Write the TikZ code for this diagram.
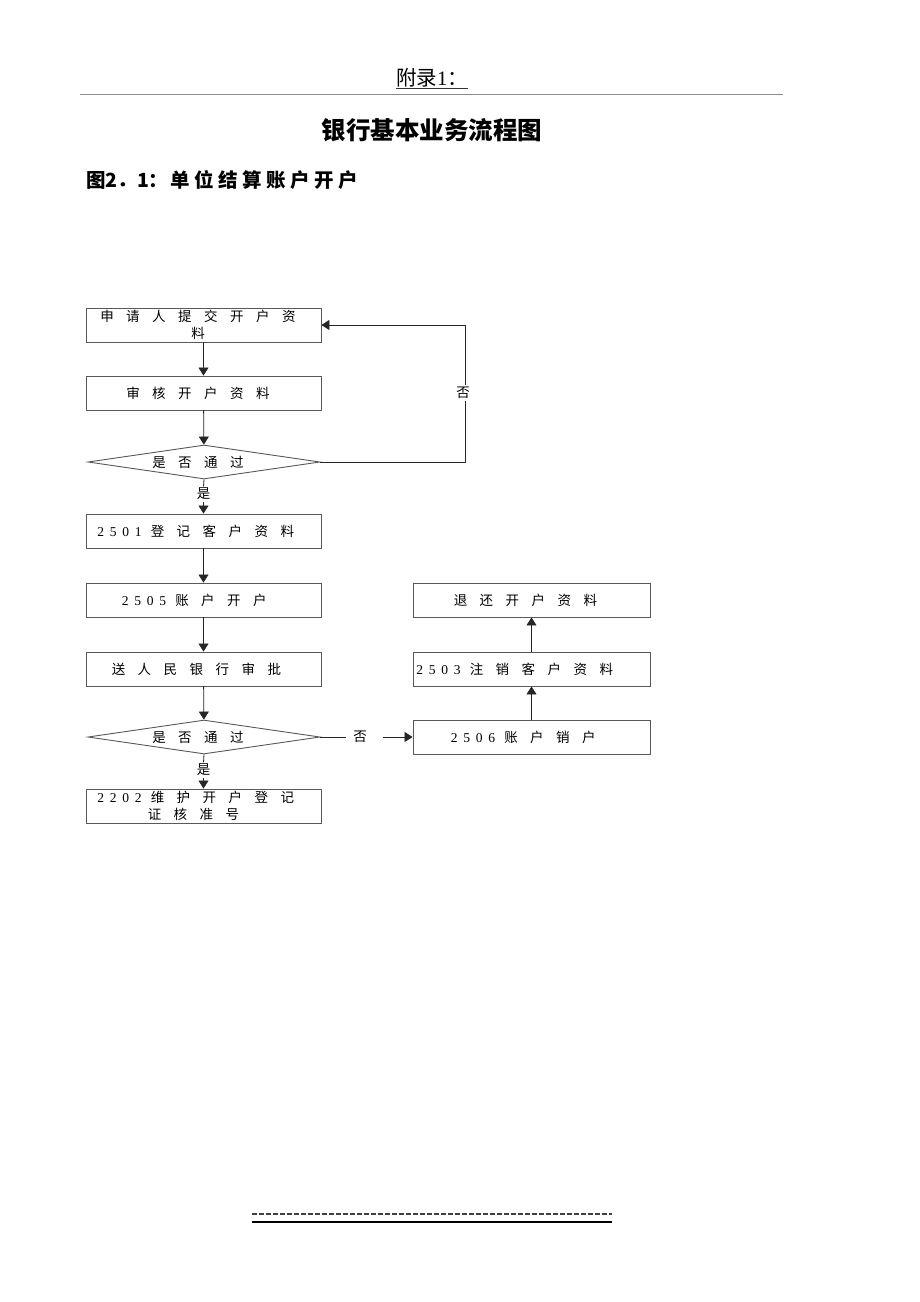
\documentclass[tikz,border=0pt]{standalone}
\usepackage{fontspec}
\setmainfont{Liberation Serif}
\newfontfamily\cjk{Noto Sans CJK SC}
\usetikzlibrary{arrows.meta,shapes.geometric}
\makeatletter
\newcommand\spr[2]{\@tfor\sprx:=#2\do{\makebox[#1][c]{\sprx}}}
\makeatother
\newcommand\dg[1]{{\rmfamily\spr{12.5pt}{#1}}}
\newcommand\cj[1]{\spr{26pt}{#1}}
\begin{document}
\begin{tikzpicture}[x=1pt,y=-1pt,
  every node/.style={inner sep=0pt},
  txt/.style={font=\cjk\fontsize{13.5pt}{17pt}\selectfont},
  lbox/.style={txt,draw=black!65,line width=0.9pt,minimum width=235pt,minimum height=34pt,align=center},
  rbox/.style={lbox,minimum width=237pt},
  dec/.style={txt,draw=black!65,line width=0.9pt,shape=diamond,aspect=6.8,minimum width=232pt,minimum height=34pt},
  lab/.style={txt,fill=white,inner sep=1.5pt},
  conn/.style={draw=black!85,line width=0.8pt},
  arr/.style={conn,-{Triangle[width=10pt,length=8pt]}}]
\useasboundingbox[fill=white] (0,0) rectangle (920,1302);

% header
\node[font=\fontsize{20.5pt}{20.5pt}\selectfont] (hdr) at (432,78) {{\cjk 附录}1{\cjk ：}};
\draw[black!80,line width=0.7pt] ([yshift=-3pt]hdr.base west) -- ([yshift=-3pt]hdr.base east);
\draw[black!45,line width=1pt] (80,94) -- (783,94);
\node[font=\cjk\bfseries\fontsize{24.5pt}{24.5pt}\selectfont] (title) at (432,130) {银行基本业务流程图};
\node[anchor=west,font=\cjk\bfseries\fontsize{19.5pt}{19.5pt}\selectfont] (sub) at (86,180) {图2．1：\spr{24pt}{单位结算账户开户}};

% left column
\node[lbox] (b1) at (203.5,325) {\cj{申请人提交开户资}\kern11pt\\ \cj{料}\kern11pt};
\node[lbox] (b2) at (203.5,393) {\cj{审核开户资料}\kern11pt};
\node[dec]  (d1) at (204,462) {\cj{是否通过}\kern12pt};
\node[lab]  (y1) at (203.5,494) {是};
\node[lbox] (b3) at (203.5,531) {\dg{2501}\cj{登记客户资料}\kern12pt};
\node[lbox] (b4) at (203.5,600) {\dg{2505}\cj{账户开户}\kern15pt};
\node[lbox] (b5) at (203.5,669) {\cj{送人民银行审批}\kern14pt};
\node[dec]  (d2) at (204,737) {\cj{是否通过}\kern12pt};
\node[lab]  (y2) at (203.5,770) {是};
\node[lbox] (b6) at (203.5,806) {\dg{2202}\cj{维护开户登记}\kern12pt\\ \cj{证核准号}\kern20pt};

% right column
\node[rbox] (r1) at (531.5,600) {\cj{退还开户资料}\kern12pt};
\node[rbox] (r2) at (531.5,669) {\dg{2503}\cj{注销客户资料}\kern30pt};
\node[rbox] (r3) at (531.5,737) {\dg{2506}\cj{账户销户}\kern13pt};

% labels on loops
\node[lab] (n1) at (463,393) {否};
\node[lab,inner xsep=7pt] (n2) at (360,737) {否};
\coordinate (c1) at (465,462);
\coordinate (c2) at (383,737);

% connectors
\draw[arr] (b1) -- (b2);
\draw[arr] (b2) -- (d1);
\draw[conn] (d1.south) -- (y1.north);
\draw[arr] (y1.south) -- (b3.north);
\draw[arr] (b3) -- (b4);
\draw[arr] (b4) -- (b5);
\draw[arr] (b5) -- (d2);
\draw[conn] (d2.south) -- (y2.north);
\draw[arr] (y2.south) -- (b6.north);
\draw[conn] (d1.east) -- (c1) -- (c1 |- n1.south);
\draw[arr] (c1 |- n1.north) |- (b1.east);
\draw[conn] (d2.east) -- (n2.west);
\draw[arr] (c2) -- (r3.west);
\draw[arr] (r3) -- (r2);
\draw[arr] (r2) -- (r1);

% footer rules
\draw[black!75,line width=1.6pt,dash pattern=on 5pt off 2pt] (252,1214) -- (612,1214);
\draw[black,line width=1.4pt] (252,1222) -- (612,1222);
\end{tikzpicture}
\end{document}
